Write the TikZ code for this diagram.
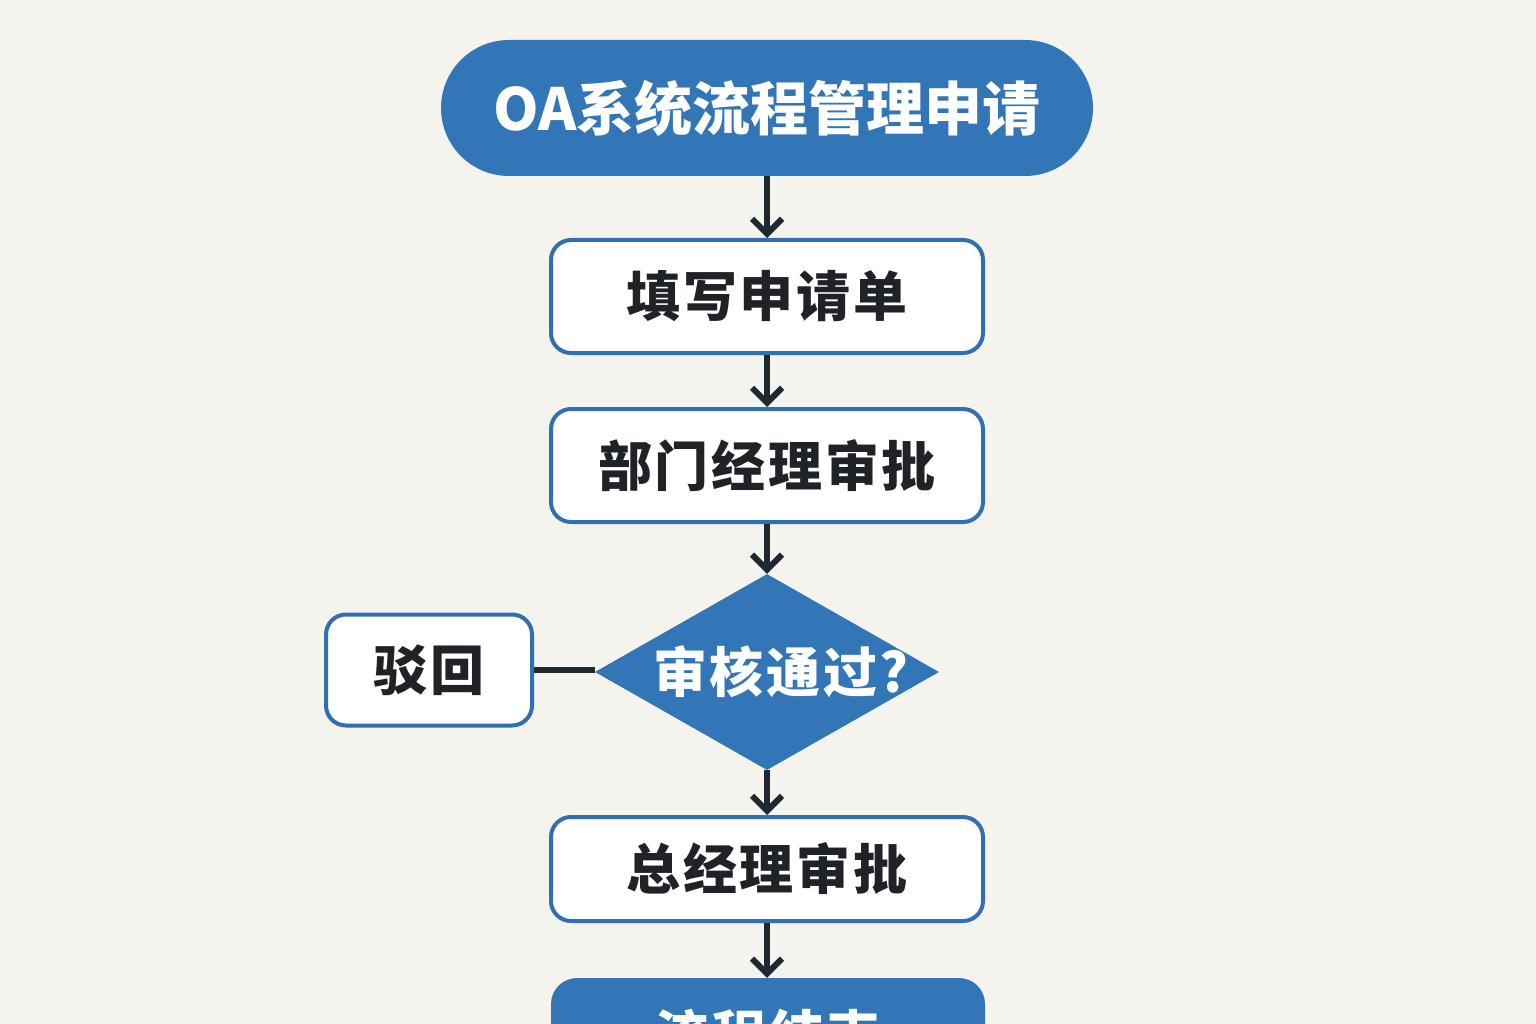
\documentclass[tikz,border=0pt]{standalone}
\usepackage{fontspec}
\newfontfamily\cjk{Noto Sans CJK SC}
\newfontfamily\cjks{Noto Sans CJK SC}[LetterSpace=5]
\usetikzlibrary{shapes.geometric,arrows.meta}
\definecolor{bgc}{HTML}{F5F3EE}
\definecolor{blu}{HTML}{3276B7}
\definecolor{bord}{HTML}{2F6FB2}
\definecolor{ink}{HTML}{1F2328}
\definecolor{arr}{HTML}{1E2830}
\tikzset{
  x=1pt, y=-1pt,
  pill/.style={rounded corners=68pt, fill=blu, draw=none, minimum width=652pt, minimum height=136pt, inner sep=0pt, text=white, font=\cjk\bfseries\fontsize{58}{60}\selectfont},
  box/.style={rounded corners=20pt, fill=white, draw=bord, line width=4pt, minimum width=432pt, minimum height=113pt, inner sep=0pt, text=ink, font=\cjks\bfseries\fontsize{54}{60}\selectfont},
  endbox/.style={rounded corners=26pt, fill=blu, draw=none, minimum width=434pt, minimum height=113pt, inner sep=0pt, text=white, font=\cjks\bfseries\fontsize{54}{60}\selectfont},
  dia/.style={diamond, fill=blu, draw=none, minimum width=344pt, minimum height=196pt, inner sep=0pt, text=white, font=\cjks\bfseries\fontsize{54}{60}\selectfont},
  conn/.style={draw=arr, line width=5.5pt, -{Straight Barb[length=15pt,width=30pt,line width=6pt]}},
  plain/.style={draw=arr, line width=6pt}
}
\begin{document}
\begin{tikzpicture}
\useasboundingbox (0,0) rectangle (1536,1024);
\clip (0,0) rectangle (1536,1024);
\fill[bgc] (0,0) rectangle (1536,1024);
\node[pill] (t) at (767,108) {OA系统流程管理申请};
\node[box] (b1) at (767,296.5) {填写申请单};
\node[box] (b2) at (767,465.5) {部门经理审批};
\node[dia] (d) at (767,672) {\makebox[0pt]{\hspace*{28pt}审核通过?}};
\node[box, minimum width=206pt, minimum height=111pt] (r) at (429,670) {驳回};
\node[box, minimum height=104pt] (b3) at (767,869) {总经理审批};
\node[endbox] (e) at (768,1034.5) {流程结束};
\draw[conn] (t.south) -- (b1.north);
\draw[conn] (b1.south) -- (b2.north);
\draw[conn] (b2.south) -- (d.north);
\draw[conn] (d.south) -- (b3.north);
\draw[conn] (b3.south) -- (e.north -| b3.south);
\draw[plain] (r.east) -- (r.east -| d.west);
\end{tikzpicture}
\end{document}
